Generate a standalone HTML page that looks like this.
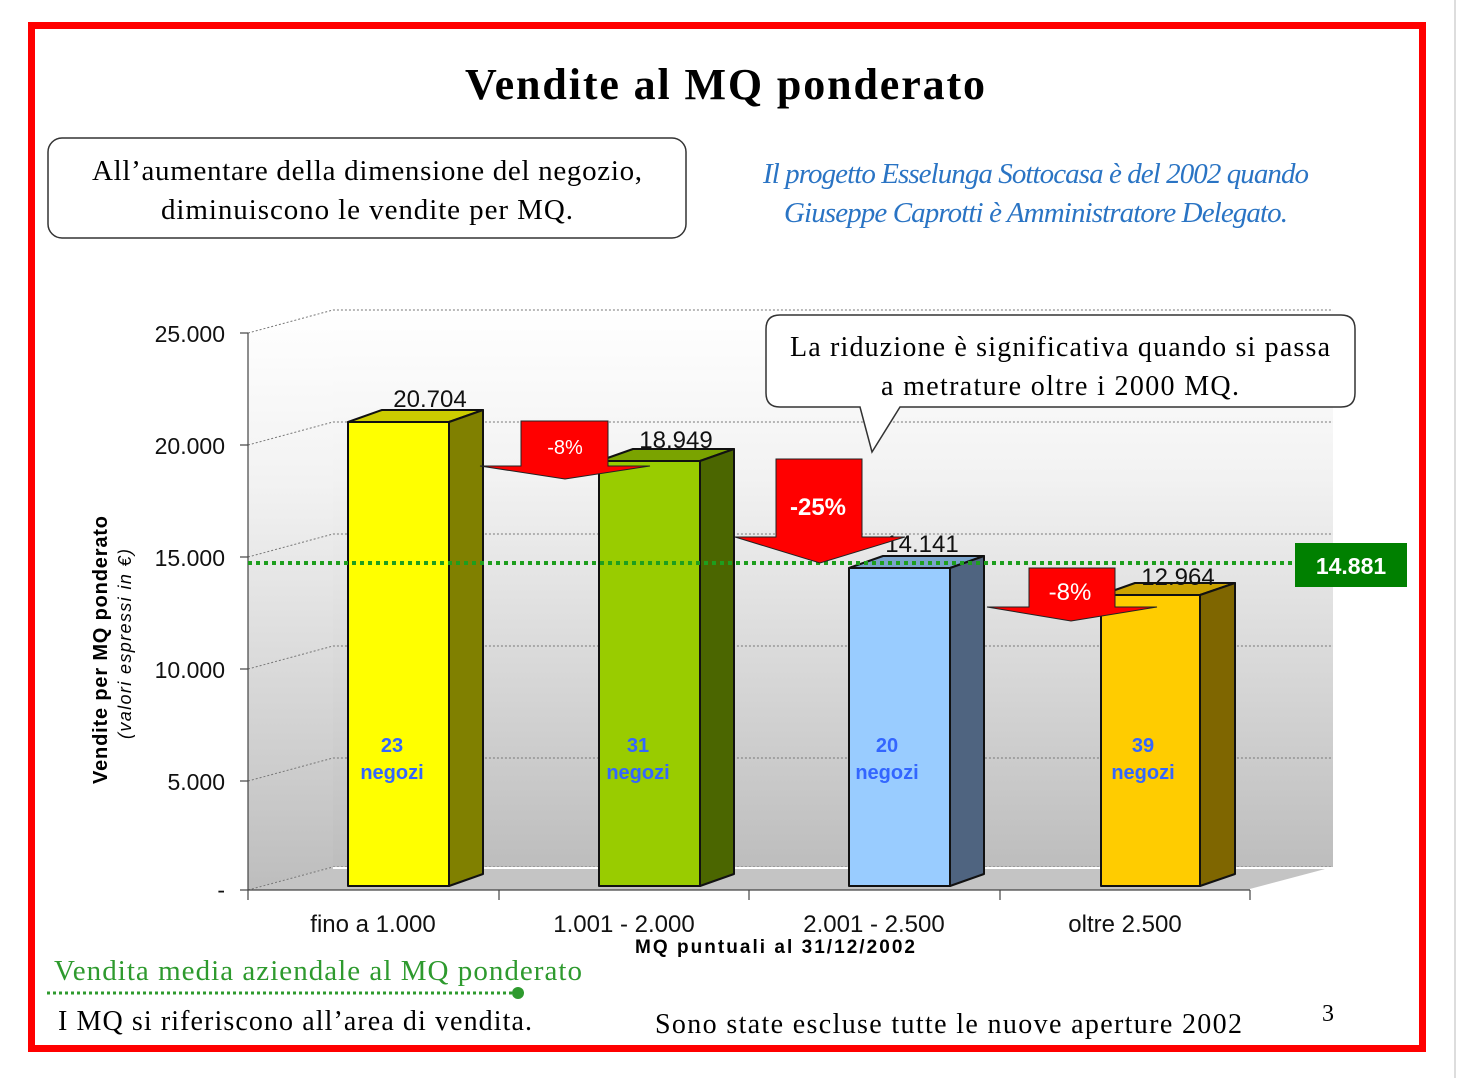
<!DOCTYPE html>
<html><head><meta charset="utf-8"><style>html,body{margin:0;padding:0;background:#fff}svg{display:block}</style></head><body>
<svg width="1460" height="1078" viewBox="0 0 1460 1078" xmlns="http://www.w3.org/2000/svg">
<defs>
<linearGradient id="wall" x1="0" y1="0" x2="0" y2="1">
<stop offset="0" stop-color="#ffffff"/><stop offset="0.3" stop-color="#f2f2f2"/><stop offset="1" stop-color="#bdbdbd"/>
</linearGradient>
</defs>
<rect x="0" y="0" width="1460" height="1078" fill="#fff"/>
<line x1="1455" y1="0" x2="1455" y2="1078" stroke="#ddd" stroke-width="2"/>
<rect x="31.5" y="25.5" width="1391" height="1023" fill="none" stroke="#ff0000" stroke-width="7"/>
<text x="725" y="99" text-anchor="middle" font-family="Liberation Serif, serif" font-weight="bold" font-size="44" textLength="520">Vendite al MQ ponderato</text>
<rect x="48" y="138" width="638" height="100" rx="14" fill="#fff" stroke="#333" stroke-width="1.5"/>
<text x="367" y="180" text-anchor="middle" font-family="Liberation Serif, serif" font-size="29" textLength="550">All’aumentare della dimensione del negozio,</text>
<text x="367" y="219" text-anchor="middle" font-family="Liberation Serif, serif" font-size="29" textLength="412">diminuiscono le vendite per MQ.</text>
<text x="1036" y="183" text-anchor="middle" font-family="Liberation Serif, serif" font-style="italic" font-size="29" fill="#2a74c4" textLength="546">Il progetto Esselunga Sottocasa è del 2002 quando</text>
<text x="1036" y="222" text-anchor="middle" font-family="Liberation Serif, serif" font-style="italic" font-size="29" fill="#2a74c4" textLength="504">Giuseppe Caprotti è Amministratore Delegato.</text>
<rect x="333" y="310" width="1000" height="557" fill="url(#wall)"/>
<polygon points="248,333 333,310 333,867 248,890" fill="url(#wall)"/>
<polygon points="248,890 333,867 1333,867 1250,890" fill="#c4c4c4"/>
<g stroke="#777" stroke-width="1" stroke-dasharray="2,2" fill="none">
<polyline points="248,333 333,310 1333,310"/>
<polyline points="248,445 333,422 1333,422"/>
<polyline points="248,557 333,534 1333,534"/>
<polyline points="248,669 333,646 1333,646"/>
<polyline points="248,781 333,758 1333,758"/>
<polyline points="248,890 333,867 1333,867"/>
</g>
<line x1="333" y1="868" x2="1333" y2="868" stroke="#fff" stroke-width="2"/>
<polyline points="1250,890 1333,868" stroke="#fff" stroke-width="2" fill="none"/>
<g stroke="#444" stroke-width="1.2">
<line x1="248" y1="333" x2="248" y2="900"/>
<line x1="240" y1="333" x2="248" y2="333"/><line x1="240" y1="445" x2="248" y2="445"/><line x1="240" y1="557" x2="248" y2="557"/><line x1="240" y1="669" x2="248" y2="669"/><line x1="240" y1="781" x2="248" y2="781"/><line x1="240" y1="890" x2="248" y2="890"/>
<line x1="248" y1="890" x2="1250" y2="890"/>
<line x1="499" y1="890" x2="499" y2="900"/><line x1="749" y1="890" x2="749" y2="900"/><line x1="1000" y1="890" x2="1000" y2="900"/><line x1="1250" y1="890" x2="1250" y2="900"/>
</g>
<g font-family="Liberation Sans, sans-serif" font-size="23" text-anchor="end" fill="#111">
<text x="225" y="342">25.000</text><text x="225" y="454">20.000</text><text x="225" y="566">15.000</text><text x="225" y="678">10.000</text><text x="225" y="790">5.000</text><text x="225" y="898">-</text>
</g>
<text transform="translate(107,650) rotate(-90)" text-anchor="middle" font-family="Liberation Sans, sans-serif" font-weight="bold" font-size="20" textLength="268">Vendite per MQ ponderato</text>
<text transform="translate(131,644) rotate(-90)" text-anchor="middle" font-family="Liberation Sans, sans-serif" font-style="italic" font-size="18" textLength="190">(valori espressi in €)</text>
<g stroke="#111" stroke-width="2" stroke-linejoin="round">
<polygon points="348,422 382,410 483,410 449,422" fill="#cccc00"/>
<polygon points="449,422 483,410 483,874 449,886" fill="#808000"/>
<rect x="348" y="422" width="101" height="464" fill="#ffff00"/>
<polygon points="599,461 633,449 734,449 700,461" fill="#7aa300"/>
<polygon points="700,461 734,449 734,874 700,886" fill="#4b6600"/>
<rect x="599" y="461" width="101" height="425" fill="#99cc00"/>
<polygon points="849,568 883,556 984,556 950,568" fill="#7aa3cc"/>
<polygon points="950,568 984,556 984,874 950,886" fill="#4f6480"/>
<rect x="849" y="568" width="101" height="318" fill="#99ccff"/>
<polygon points="1101,595 1135,583 1235,583 1200,595" fill="#cca300"/>
<polygon points="1200,595 1235,583 1235,874 1200,886" fill="#7f6600"/>
<rect x="1101" y="595" width="99" height="291" fill="#ffcc00"/>
</g>
<g font-family="Liberation Sans, sans-serif" font-size="24" text-anchor="middle" fill="#111">
<text x="430" y="407">20.704</text><text x="676" y="448">18.949</text><text x="922" y="552">14.141</text><text x="1178" y="585">12.964</text>
</g>
<g font-family="Liberation Sans, sans-serif" font-size="20" font-weight="bold" text-anchor="middle" fill="#3366ff">
<text x="392" y="752">23</text><text x="392" y="779">negozi</text>
<text x="638" y="752">31</text><text x="638" y="779">negozi</text>
<text x="887" y="752">20</text><text x="887" y="779">negozi</text>
<text x="1143" y="752">39</text><text x="1143" y="779">negozi</text>
</g>
<line x1="248" y1="563" x2="1295" y2="563" stroke="#1e9e1e" stroke-width="4" stroke-dasharray="4,4"/>
<rect x="1295" y="543" width="112" height="44" fill="#008000"/>
<text x="1351" y="574" text-anchor="middle" font-family="Liberation Sans, sans-serif" font-weight="bold" font-size="23" fill="#fff">14.881</text>
<g fill="#ff0000" stroke="#222" stroke-width="1">
<polygon points="521,421 608,421 608,466 650,466 565,479 480,466 521,466"/>
<polygon points="776,459 862,459 862,537 905,537 820,563 735,537 776,537"/>
<polygon points="1029,568 1115,568 1115,607 1157,607 1071,621 987,607 1029,607"/>
</g>
<g font-family="Liberation Sans, sans-serif" fill="#fff" text-anchor="middle">
<text x="565" y="454" font-size="20">-8%</text>
<text x="818" y="515" font-size="24" font-weight="bold">-25%</text>
<text x="1070" y="600" font-size="24">-8%</text>
</g>
<path d="M780,315 H1341 Q1355,315 1355,329 V393 Q1355,407 1341,407 H900 L872,452 L860,407 H780 Q766,407 766,393 V329 Q766,315 780,315 Z" fill="#fff" stroke="#333" stroke-width="1.5"/>
<text x="1060" y="356" text-anchor="middle" font-family="Liberation Serif, serif" font-size="28" textLength="540">La riduzione è significativa quando si passa</text>
<text x="1060" y="395" text-anchor="middle" font-family="Liberation Serif, serif" font-size="28" textLength="358">a metrature oltre i 2000 MQ.</text>
<g font-family="Liberation Sans, sans-serif" font-size="24" text-anchor="middle" fill="#111">
<text x="373" y="932">fino a 1.000</text><text x="624" y="932">1.001 - 2.000</text><text x="874" y="932">2.001 - 2.500</text><text x="1125" y="932">oltre 2.500</text>
</g>
<text x="775" y="953" text-anchor="middle" font-family="Liberation Sans, sans-serif" font-weight="bold" font-size="19" textLength="280">MQ puntuali al 31/12/2002</text>
<text x="54" y="980" font-family="Liberation Serif, serif" font-size="29" fill="#2e9a2e" textLength="528">Vendita media aziendale al MQ ponderato</text>
<line x1="47" y1="993" x2="518" y2="993" stroke="#2e9a2e" stroke-width="3" stroke-dasharray="3,3"/>
<circle cx="518" cy="993" r="6" fill="#2e9a2e"/>
<text x="58" y="1030" font-family="Liberation Serif, serif" font-size="28" textLength="474">I MQ si riferiscono all’area di vendita.</text>
<text x="655" y="1033" font-family="Liberation Serif, serif" font-size="28" textLength="587">Sono state escluse tutte le nuove aperture 2002</text>
<text x="1328" y="1021" text-anchor="middle" font-family="Liberation Serif, serif" font-size="24">3</text>
</svg>
</body></html>
